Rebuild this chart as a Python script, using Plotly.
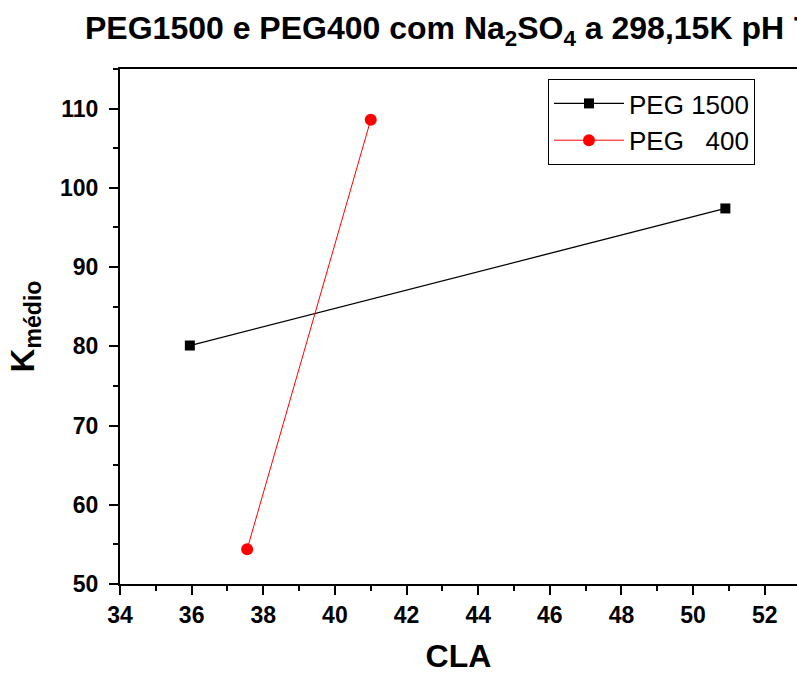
import plotly.graph_objects as go

# Data
peg1500_cla = [35.95, 50.9]
peg1500_k = [80.1, 97.4]
peg400_cla = [37.55, 41.0]
peg400_k = [54.4, 108.6]

series_names = ["PEG 1500", "PEG\u00a0\u00a0\u00a0400"]

FONT = "Liberation Sans, Arial, sans-serif"

fig = go.Figure()
fig.add_trace(go.Scatter(
    x=peg1500_cla, y=peg1500_k, mode="lines+markers", name=series_names[0],
    line=dict(color="black", width=1.3),
    marker=dict(symbol="square", size=10, color="black"),
))
fig.add_trace(go.Scatter(
    x=peg400_cla, y=peg400_k, mode="lines+markers", name=series_names[1],
    line=dict(color="#ff0000", width=1),
    marker=dict(symbol="circle", size=12, color="#ff0000"),
))

axis_common = dict(
    showgrid=False, zeroline=False, showline=True, linecolor="black", linewidth=2,
    ticks="outside", ticklen=9, tickwidth=2, tickcolor="black",
    tickfont=dict(family=FONT, size=23, color="black", weight="bold"),
)

fig.update_layout(
    width=797, height=674,
    margin=dict(l=120, r=0, t=69, b=90),
    plot_bgcolor="white", paper_bgcolor="white",
    title=dict(
        text="PEG1500 e PEG400 com Na<sub>2</sub>SO<sub>4</sub> a 298,15K pH 7",
        font=dict(family=FONT, size=32, color="black", weight="bold"),
        xref="container", x=85 / 797, xanchor="left",
        yref="container", y=1 - 28 / 674, yanchor="middle",
    ),
    xaxis=dict(
        **axis_common, range=[34, 52.9], dtick=2, tick0=34, mirror=True,
        minor=dict(ticks="outside", ticklen=5, tickwidth=2, tickcolor="black", dtick=1),
        title=dict(text="CLA", font=dict(family=FONT, size=32, color="black", weight="bold"), standoff=22),
    ),
    yaxis=dict(
        **axis_common, range=[50, 115], dtick=10, tick0=50, mirror=False,
        ticklabelstandoff=6,
        minor=dict(ticks="outside", ticklen=5, tickwidth=2, tickcolor="black", dtick=5),
        title=dict(text="K<sub>médio</sub>", font=dict(family=FONT, size=33, color="black", weight="bold"), standoff=15),
    ),
    legend=dict(
        x=(548 - 120) / 677, y=(584 - 79) / 515, xanchor="left", yanchor="top",
        bordercolor="black", borderwidth=1, bgcolor="white",
        font=dict(family=FONT, size=26, color="black"),
        itemwidth=70, tracegroupgap=0,
    ),
    showlegend=True,
)

fig.write_html("out.html")
